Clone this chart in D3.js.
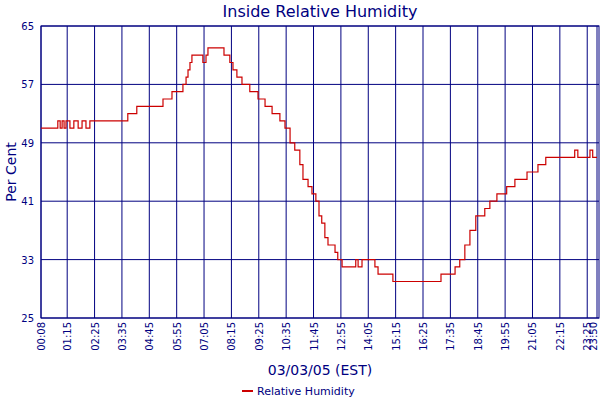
<!DOCTYPE html>
<html><head><meta charset="utf-8">
<script src="https://cdn.jsdelivr.net/npm/d3@7"></script>
<style>body{margin:0;background:#fff}text{font-family:"DejaVu Sans",Verdana,sans-serif}</style>
</head><body><svg id="c" width="600" height="400"></svg>
<script>
const times = ["00:08","00:51","00:57","01:02","01:07","01:12","01:22","01:32","01:43","01:53","02:03","02:13","03:50","04:13","05:20","05:43","06:11","06:19","06:24","06:29","06:34","07:02","07:10","07:15","07:56","08:11","08:19","08:29","08:42","09:02","09:23","09:41","09:59","10:19","10:32","10:45","10:57","11:10","11:18","11:31","11:41","11:51","11:59","12:06","12:14","12:22","12:40","12:47","12:58","13:33","13:39","13:49","14:22","14:30","14:40","15:08","17:11","17:47","17:59","18:12","18:25","18:40","19:03","19:16","19:34","19:59","20:20","20:51","21:19","21:39","22:53","23:01","23:06","23:32","23:39","23:50"];
const humidity = [51,52,51,52,51,52,51,52,51,52,51,52,53,54,55,56,57,58,59,60,61,60,61,62,61,60,59,58,57,56,55,54,53,52,51,49,48,46,44,43,42,41,39,38,36,35,34,33,32,33,32,33,32,31,31,30,31,32,33,35,37,39,40,41,42,43,44,45,46,47,48,47,47,48,47,47];
const tickLabels = ["00:08","01:15","02:25","03:35","04:45","05:55","07:05","08:15","09:25","10:35","11:45","12:55","14:05","15:15","16:25","17:35","18:45","19:55","21:05","22:15","23:25","23:50"];
const yTicks = [25,33,41,49,57,65];

const toMin = s => { const [h,m] = s.split(":").map(Number); return h*60+m; };
const svg = d3.select("#c");
const m = {l:41, r:599, t:26, b:318};
const x = d3.scaleLinear().domain([toMin("00:08"), toMin("23:50")]).range([m.l, 597]);
const y = d3.scaleLinear().domain([25,65]).range([m.b, m.t]);
const navy = "#000080";

svg.append("g").selectAll("line").data(tickLabels).join("line")
  .attr("x1", d=>x(toMin(d))).attr("x2", d=>x(toMin(d)))
  .attr("y1", m.t).attr("y2", m.b).attr("stroke", navy).attr("stroke-width",1);
svg.append("g").selectAll("line").data(yTicks).join("line")
  .attr("x1", m.l).attr("x2", m.r).attr("y1", d=>y(d)).attr("y2", d=>y(d))
  .attr("stroke", navy).attr("stroke-width",1);
svg.append("rect").attr("x",m.l).attr("y",m.t).attr("width",m.r-m.l).attr("height",m.b-m.t)
  .attr("fill","none").attr("stroke",navy);

svg.append("g").selectAll("text").data(yTicks).join("text")
  .attr("x", 34).attr("y", d=>y(d)+4).attr("text-anchor","end")
  .attr("font-size",10).attr("fill",navy).text(d=>d);
svg.append("g").selectAll("text").data(tickLabels).join("text")
  .attr("transform", d=>`translate(${Math.min(x(toMin(d))+4, 597)},322) rotate(-90)`)
  .attr("text-anchor","end").attr("font-size",10).attr("fill",navy).text(d=>d);

const line = d3.line().x((d,i)=>x(toMin(times[i]))).y(d=>y(d)).curve(d3.curveStepAfter);
svg.append("path").datum(humidity).attr("d", line).attr("fill","none")
  .attr("stroke","#cc0000").attr("stroke-width",1.2);

svg.append("text").attr("x",320).attr("y",17).attr("text-anchor","middle")
  .attr("font-size",16).attr("fill",navy).text("Inside Relative Humidity");
svg.append("text").attr("transform","translate(16,172) rotate(-90)").attr("text-anchor","middle")
  .attr("font-size",14).attr("fill",navy).text("Per Cent");
svg.append("text").attr("x",320).attr("y",375).attr("text-anchor","middle")
  .attr("font-size",14).attr("fill",navy).text("03/03/05 (EST)");
svg.append("line").attr("x1",242).attr("x2",253).attr("y1",391).attr("y2",391)
  .attr("stroke","#cc0000").attr("stroke-width",2);
svg.append("text").attr("x",257).attr("y",395).attr("font-size",11).attr("fill",navy).text("Relative Humidity");
</script></body></html>
